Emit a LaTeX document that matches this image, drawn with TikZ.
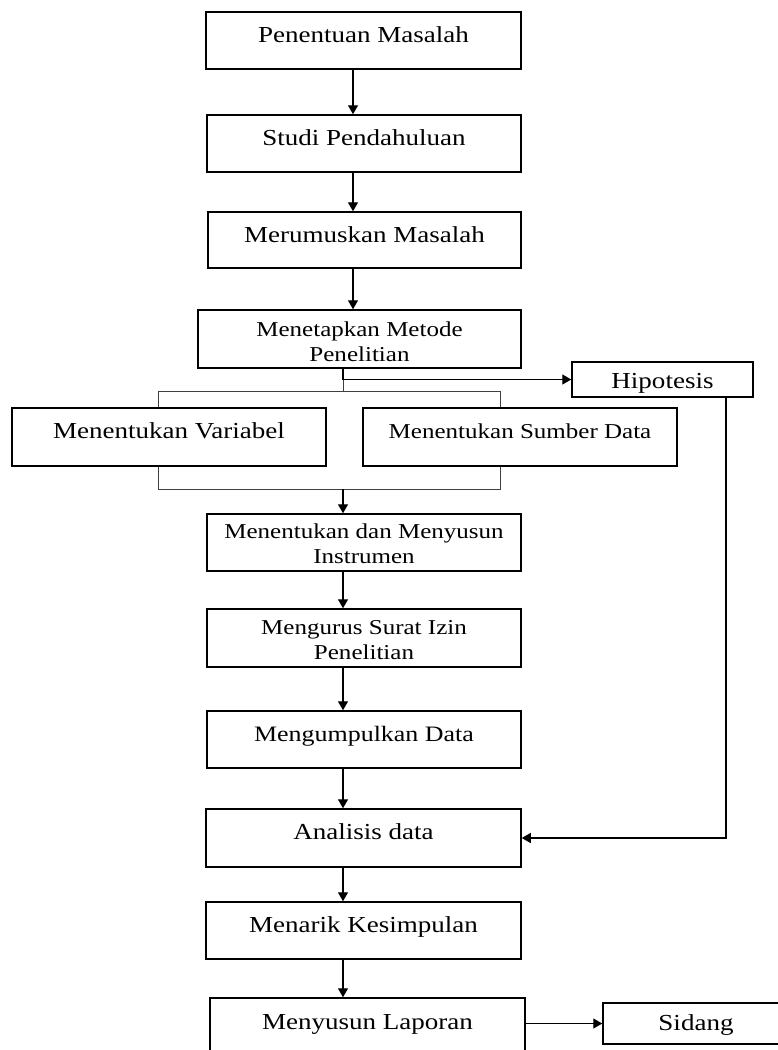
\documentclass[tikz,border=0pt]{standalone}
\usepackage{fontspec}
\setmainfont{Liberation Serif}[FakeStretch=1.18]
\usetikzlibrary{arrows.meta}
\newcommand{\twol}[2]{\begin{tabular}[t]{@{}c@{}}#1\\#2\end{tabular}}
\begin{document}
\begin{tikzpicture}[x=1pt,y=-1pt,
  box/.style={draw, line width=1.5pt, inner sep=0pt, anchor=center},
  bigf/.style={font=\fontsize{22.9}{26}\selectfont},
  smallf/.style={font=\fontsize{21.2}{25}\selectfont},
  arr/.style={line width=1.4pt, -{Triangle[length=9pt,width=10pt]}},
  bracket/.style={line width=0.9pt, draw=black!75}]
\useasboundingbox (0,0) rectangle (778,1050);
\clip (0,0) rectangle (778,1050);

\node[box,bigf,minimum width=315pt,text height=30pt,text depth=27pt] (pm) at (363.5,40.5) {Penentuan Masalah};
\node[box,bigf,minimum width=314pt,text height=30pt,text depth=27pt] (sp) at (364,143.5) {Studi Pendahuluan};
\node[box,bigf,minimum width=313pt,text height=30pt,text depth=26pt] (mm) at (364.5,240) {Merumuskan Masalah};
\node[box,smallf,minimum width=323pt,text height=26pt,text depth=32pt] (mmp) at (359.5,339) {\twol{Menetapkan Metode}{Penelitian}};
\node[box,bigf,minimum width=181pt,text height=26pt,text depth=9pt] (hip) at (662.5,379.5) {Hipotesis};
\node[box,bigf,minimum width=314pt,text height=30pt,text depth=28pt] (var) at (169,437) {Menentukan Variabel};
\node[box,smallf,minimum width=314pt,text height=30pt,text depth=28pt] (sd) at (520,437) {Menentukan Sumber Data};
\node[box,smallf,minimum width=314pt,text height=24pt,text depth=33pt] (ins) at (364,542.5) {\twol{Menentukan dan Menyusun}{Instrumen}};
\node[box,smallf,minimum width=314pt,text height=25pt,text depth=33pt] (msi) at (364,638) {\twol{Mengurus Surat Izin}{Penelitian}};
\node[box,font=\fontsize{22}{26}\selectfont,minimum width=314pt,text height=30pt,text depth=27pt] (md) at (364,739.5) {Mengumpulkan Data};
\node[box,bigf,minimum width=315pt,text height=30pt,text depth=28pt] (ad) at (363.5,838) {Analisis data};
\node[box,bigf,minimum width=315pt,text height=30pt,text depth=27pt] (mk) at (363.5,930.5) {Menarik Kesimpulan};
\node[box,bigf,minimum width=315pt,text height=31pt,text depth=26pt] (ml) at (367.5,1026.5) {Menyusun Laporan};
\node[box,bigf,minimum width=186pt,text height=27pt,text depth=14pt] (sid) at (696,1023.5) {Sidang};

\coordinate (spA) at (353,0);
\coordinate (spB) at (343,0);
\coordinate (hx) at (726,0);
\coordinate (bl) at (158,391);
\coordinate (bm) at (343,391);
\coordinate (brr) at (500,391);
\coordinate (dl) at (158,489);
\coordinate (dm) at (343,489);
\coordinate (dr) at (500,489);

\draw[arr] (pm.south -| spA) -- (sp.north -| spA);
\draw[arr] (sp.south -| spA) -- (mm.north -| spA);
\draw[arr] (mm.south -| spA) -- (mmp.north -| spA);
\draw[bracket] (mmp.south -| spB) -- (bm);
\draw[arr] (mmp.south -| spB) |- (hip.west);
\draw[bracket] (var.north -| bl) -- (bl) -- (brr) -- (sd.north -| brr);
\draw[bracket] (var.south -| dl) -- (dl) -- (dr) -- (sd.south -| dr);
\draw[arr] (dm) -- (ins.north -| spB);
\draw[arr] (ins.south -| spB) -- (msi.north -| spB);
\draw[arr] (msi.south -| spB) -- (md.north -| spB);
\draw[arr] (md.south -| spB) -- (ad.north -| spB);
\draw[arr] (hip.south -| hx) |- (ad.east);
\draw[arr] (ad.south -| spB) -- (mk.north -| spB);
\draw[arr] (mk.south -| spB) -- (ml.north -| spB);
\draw[arr] (ml.east |- sid.west) -- (sid.west);
\end{tikzpicture}
\end{document}
